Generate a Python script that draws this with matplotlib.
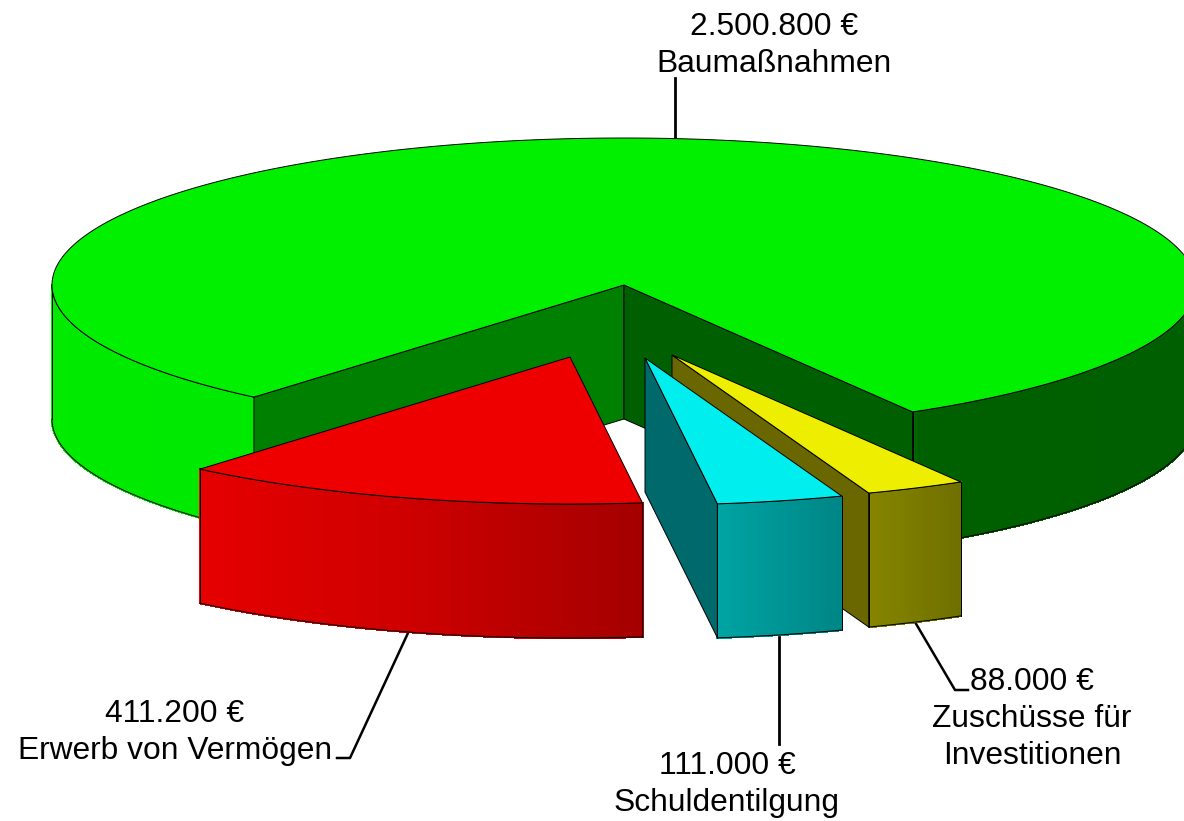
"""Exploded 3D pie chart of investment spending, drawn by hand with matplotlib."""
import numpy as np
import matplotlib
matplotlib.use('Agg')
import matplotlib.pyplot as plt
from matplotlib.collections import PolyCollection
from matplotlib.patches import Polygon

names = ['Baumaßnahmen', 'Erwerb von Vermögen', 'Schuldentilgung', 'Zuschüsse für\nInvestitionen']
values = [2500800, 411200, 111000, 88000]
top_colors = ['#00f000', '#ee0000', '#00eeee', '#eeee00']
explode_x = [0, -54, 21, 48]
explode_y = [0, 72, 73, 70]

# wall brightness by angle
shade_angles = [180, 229, 253, 277, 290, 300, 301, 420]
shade_levels = [0.98, 0.97, 0.87, 0.69, 0.56, 0.47, 0.40, 0.39]

CX, CY = 624, 285
RX, RY = 572, 147
DEPTH = 134
START = -59.7
EDGE = dict(color='black', lw=0.7)

plt.rcParams['font.family'] = ['Liberation Sans', 'DejaVu Sans']


def rim(angles, dx=0, dy=0):
    rad = np.radians(angles)
    return CX + dx + RX * np.cos(rad), CY + dy - RY * np.sin(rad)


def scaled(color, level):
    return tuple(c * level for c in matplotlib.colors.to_rgb(color))


def draw_wall(ax, a0, a1, color, dx, dy, z):
    # outer wall as thin strips, only the part that faces the viewer
    angles = np.linspace(a0, a1, max(int(abs(a1 - a0) * 3), 2))
    x, y = rim(angles, dx, dy)
    strips = []
    colors = []
    for i in range(len(angles) - 1):
        strips.append([(x[i], y[i]), (x[i + 1], y[i + 1]),
                       (x[i + 1], y[i + 1] + DEPTH), (x[i], y[i] + DEPTH)])
        colors.append(scaled(color, np.interp((angles[i] - 180) % 360 + 180, shade_angles, shade_levels)))
    ax.add_collection(PolyCollection(strips, facecolors=colors, edgecolors=colors,
                                     linewidths=1, antialiaseds=False, zorder=z))
    ax.plot(x, y + DEPTH, zorder=z + 0.1, **EDGE)
    ax.plot(x, y, zorder=z + 0.1, **EDGE)
    ax.plot([x[0], x[0]], [y[0], y[0] + DEPTH], zorder=z + 0.1, **EDGE)
    ax.plot([x[-1], x[-1]], [y[-1], y[-1] + DEPTH], zorder=z + 0.1, **EDGE)


def draw_cut(ax, angle, color, dx, dy, z):
    x, y = rim(np.array([angle]), dx, dy)
    ax0, ay0 = CX + dx, CY + dy
    ax.add_patch(Polygon([(ax0, ay0), (x[0], y[0]), (x[0], y[0] + DEPTH), (ax0, ay0 + DEPTH)],
                         facecolor=color, edgecolor='black', lw=0.7, zorder=z + 0.2))


def draw_top(ax, a0, a1, color, dx, dy, z):
    x, y = rim(np.linspace(a0, a1, 400), dx, dy)
    pts = np.column_stack([np.r_[CX + dx, x], np.r_[CY + dy, y]])
    ax.add_patch(Polygon(pts, facecolor=color, edgecolor='black', lw=0.7, zorder=z + 0.3))


def main():
    fig = plt.figure(figsize=(11.84, 8.21), dpi=100)
    ax = fig.add_axes([0, 0, 1, 1])
    ax.set_xlim(0, 1184)
    ax.set_ylim(821, 0)
    ax.axis('off')

    sweep = np.array(values) / sum(values) * 360
    ends = START + np.cumsum(sweep)
    starts = ends - sweep

    # Baumaßnahmen: back of the pie with the wedge cut out
    s, e = starts[0], ends[0]
    draw_wall(ax, 180, e, top_colors[0], 0, 0, 1)
    draw_wall(ax, s, 0, top_colors[0], 0, 0, 1)
    draw_cut(ax, e, '#008000', 0, 0, 1)
    draw_cut(ax, s, '#005f00', 0, 0, 1)
    draw_top(ax, s, e, top_colors[0], 0, 0, 1)

    # Zuschüsse
    dx, dy = explode_x[3], explode_y[3]
    draw_wall(ax, starts[3], ends[3], top_colors[3], dx, dy, 2)
    draw_cut(ax, starts[3], '#6a6600', dx, dy, 2)
    draw_top(ax, starts[3], ends[3], top_colors[3], dx, dy, 2)

    # Schuldentilgung
    dx, dy = explode_x[2], explode_y[2]
    draw_wall(ax, starts[2], ends[2], top_colors[2], dx, dy, 3)
    draw_cut(ax, starts[2], '#00696b', dx, dy, 3)
    draw_top(ax, starts[2], ends[2], top_colors[2], dx, dy, 3)

    # Erwerb von Vermögen
    dx, dy = explode_x[1], explode_y[1]
    draw_wall(ax, starts[1], ends[1], top_colors[1], dx, dy, 4)
    draw_top(ax, starts[1], ends[1], top_colors[1], dx, dy, 4)

    # leader lines
    ax.plot([675, 675], [138, 78], color='black', lw=2.0, zorder=0.5)
    ax.plot([408, 350, 337], [633, 758, 758], color='black', lw=1.8, zorder=0.5)
    ax.plot([779, 779], [637, 744], color='black', lw=2.0, zorder=0.5)
    ax.plot([915, 955, 968], [622, 690, 690], color='black', lw=1.8, zorder=0.5)

    # labels, y is the baseline of the first line
    label_x = [774, 175, 727, 1032]
    label_y = [35, 722, 774, 690]
    for i, name in enumerate(names):
        amount = f'{values[i]:,}'.replace(',', '.') + ' €'
        for k, line in enumerate([amount] + name.split('\n')):
            ax.text(label_x[i], label_y[i] + k * 36.8, line, ha='center', va='baseline',
                    fontsize=22.9, color='black')

    fig.savefig('out.png', dpi=100, facecolor='white')


if __name__ == '__main__':
    main()
